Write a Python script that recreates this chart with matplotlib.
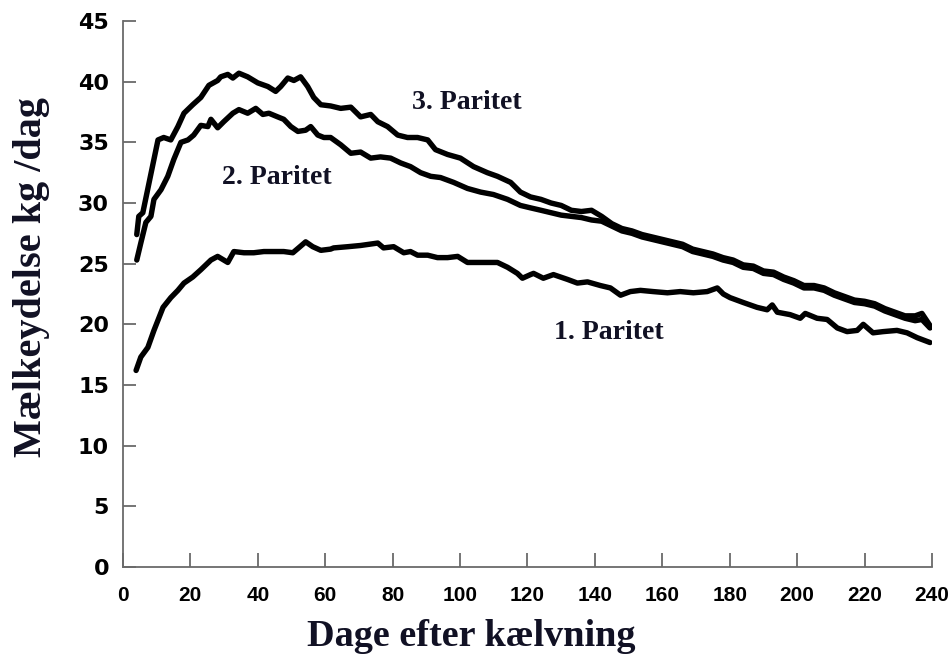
import matplotlib.pyplot as plt
import numpy as np

# days after calving and daily yield (kg)
days_p3 = [4.1, 4.7, 5.9, 10.4, 12.1, 14.2, 16.3, 18.1, 20.7, 23.1, 25.5, 28.1, 29.0, 31.1, 32.6,
           34.4, 37.0, 40.0, 43.0, 45.3, 46.8, 48.9, 50.7, 52.7, 54.8, 56.6, 58.7, 61.6, 64.6,
           67.6, 70.5, 73.5, 75.6, 78.5, 81.5, 84.4, 87.4, 90.4, 92.7, 96.3, 100.1, 104.0,
           108.1, 111.1, 115.0, 117.9, 120.9, 124, 127, 130, 133, 136, 139, 142, 145, 148,
           151, 154, 157, 160, 163, 166, 169, 172, 175, 178, 181, 184, 187, 190, 193, 196,
           199, 202, 205, 208, 211, 214, 217, 220, 223, 226, 229, 232, 235, 237, 239.4]
milk_p3 = [27.4, 28.9, 29.2, 35.2, 35.4, 35.2, 36.3, 37.4, 38.1, 38.7, 39.7, 40.1, 40.4, 40.6, 40.3,
           40.7, 40.4, 39.9, 39.6, 39.2, 39.6, 40.3, 40.1, 40.4, 39.6, 38.7, 38.1, 38.0, 37.8,
           37.9, 37.1, 37.3, 36.7, 36.3, 35.6, 35.4, 35.4, 35.2, 34.4, 34.0, 33.7, 33.0,
           32.5, 32.2, 31.7, 30.9, 30.5, 30.3, 30.0, 29.8, 29.4, 29.3, 29.4, 28.9, 28.3, 27.9,
           27.7, 27.4, 27.2, 27.0, 26.8, 26.6, 26.2, 26.0, 25.8, 25.5, 25.3, 24.9, 24.8, 24.4,
           24.3, 23.9, 23.6, 23.2, 23.2, 23.0, 22.6, 22.3, 22.0, 21.9, 21.7, 21.3, 21.0, 20.7,
           20.7, 20.9, 19.9]

days_p2 = [4.1, 5.3, 6.8, 8.3, 9.2, 11.3, 13.3, 15.1, 17.2, 19.3, 21.0, 23.1, 25.2, 26.1, 28.1,
           29.9, 32.6, 34.4, 37.0, 39.4, 41.5, 43.3, 45.9, 47.7, 49.8, 51.9, 54.2, 55.7, 57.8,
           59.6, 61.6, 64.6, 67.6, 70.5, 73.5, 76.4, 79.4, 82.4, 85.3, 88.3, 91.3, 94.2, 98.1,
           102.2, 106.1, 109.9, 114.1, 117.9, 120.9, 124, 127, 130, 133, 136, 139, 142, 145,
           148, 151, 154, 157, 160, 163, 166, 169, 172, 175, 178, 181, 184, 187, 190, 193,
           196, 199, 202, 205, 208, 211, 214, 217, 220, 223, 226, 229, 232, 235, 237, 239.4]
milk_p2 = [25.3, 26.7, 28.4, 28.9, 30.3, 31.1, 32.2, 33.6, 35.0, 35.2, 35.6, 36.4, 36.3, 36.9, 36.2,
           36.7, 37.4, 37.7, 37.4, 37.8, 37.3, 37.4, 37.1, 36.9, 36.3, 35.9, 36.0, 36.3, 35.6,
           35.4, 35.4, 34.8, 34.1, 34.2, 33.7, 33.8, 33.7, 33.3, 33.0, 32.5, 32.2, 32.1, 31.7,
           31.2, 30.9, 30.7, 30.3, 29.8, 29.6, 29.4, 29.2, 29.0, 28.9, 28.8, 28.6, 28.5, 28.1,
           27.7, 27.5, 27.2, 27.0, 26.8, 26.6, 26.4, 26.0, 25.8, 25.6, 25.3, 25.1, 24.7, 24.6,
           24.2, 24.1, 23.7, 23.4, 23.0, 23.0, 22.8, 22.4, 22.1, 21.8, 21.7, 21.5, 21.1, 20.8,
           20.5, 20.3, 20.4, 19.7]

days_p1 = [3.9, 5.3, 7.4, 9.2, 11.9, 14.2, 16.3, 18.1, 20.7, 23.1, 26.1, 28.1, 31.1, 32.9, 35.9,
           38.8, 41.8, 44.7, 47.7, 50.4, 52.1, 54.2, 56.3, 58.7, 61.6, 62.5, 66.7, 70.5, 75.6,
           77.3, 80.3, 83.3, 85.3, 87.4, 90.4, 93.3, 96.3, 99.3, 102.2, 105.2, 108.1, 111.1,
           114.1, 117.0, 118.5, 120.9, 121.8, 124.7, 127.7, 131.9, 134.8, 137.8, 141.6, 144.6,
           147.6, 150.5, 153.5, 157.3, 161.5, 165.3, 169.2, 173.3, 176.3, 178.1, 180.1, 184.0,
           188.1, 191.1, 192.6, 194.1, 197.9, 200.9, 202.4, 205.9, 208.9, 211.9, 214.8, 217.8,
           219.6, 222.5, 225.5, 229.6, 232.6, 235.6, 239.4]
milk_p1 = [16.2, 17.3, 18.1, 19.5, 21.4, 22.2, 22.8, 23.4, 23.9, 24.5, 25.3, 25.6, 25.1, 26.0, 25.9,
           25.9, 26.0, 26.0, 26.0, 25.9, 26.3, 26.8, 26.4, 26.1, 26.2, 26.3, 26.4, 26.5, 26.7,
           26.3, 26.4, 25.9, 26.0, 25.7, 25.7, 25.5, 25.5, 25.6, 25.1, 25.1, 25.1, 25.1,
           24.7, 24.2, 23.8, 24.1, 24.2, 23.8, 24.1, 23.7, 23.4, 23.5, 23.2, 23.0,
           22.4, 22.7, 22.8, 22.7, 22.6, 22.7, 22.6, 22.7, 23.0, 22.5, 22.2, 21.8,
           21.4, 21.2, 21.6, 21.0, 20.8, 20.5, 20.9, 20.5, 20.4, 19.7, 19.4, 19.5,
           20.0, 19.3, 19.4, 19.5, 19.3, 18.9, 18.5]

labels = ['3. Paritet', '2. Paritet', '1. Paritet']
label_pos = [(102, 38.25), (45.5, 32.1), (144, 19.3)]

x_ticks = np.arange(0, 241, 20)
y_ticks = np.arange(0, 46, 5)

fig = plt.figure(figsize=(9.53, 6.57), dpi=100)
ax = fig.add_axes([0.129, 0.137, 0.849, 0.831])

for d, m in [(days_p3, milk_p3), (days_p2, milk_p2), (days_p1, milk_p1)]:
    ax.plot(d, m, color='black', lw=3.9, solid_joinstyle='round', solid_capstyle='round')

txt_color = '#111124'
for lab, (x, y) in zip(labels, label_pos):
    ax.text(x, y, lab, ha='center', va='center', fontsize=20, fontweight='bold',
            family='Liberation Serif', color=txt_color)

ax.set_xlim(0, 240)
ax.set_ylim(0, 45)
ax.set_xticks(x_ticks)
ax.set_yticks(y_ticks)

for s in ['top', 'right']:
    ax.spines[s].set_visible(False)
for s in ['left', 'bottom']:
    ax.spines[s].set_color('#6a6a6a')
    ax.spines[s].set_linewidth(1.3)

ax.tick_params(axis='y', direction='in', length=9.5, width=1.3, color='#6a6a6a', pad=10)
ax.tick_params(axis='x', direction='in', length=10, width=1.3, color='#6a6a6a', pad=14)
for t in ax.get_yticklabels():
    t.set_fontsize(16)
    t.set_fontweight('bold')
    t.set_family('DejaVu Sans')
for t in ax.get_xticklabels():
    t.set_fontsize(15)
    t.set_fontweight('bold')
    t.set_family('Liberation Sans')

fig.text(471 / 953, 11 / 657, 'Dage efter kælvning', ha='center', va='baseline', fontsize=27.5,
         fontweight='bold', family='Liberation Serif', color=txt_color)
fig.text(32 / 953, 1 - 277 / 657, 'Mælkeydelse kg /dag', ha='center', va='center', rotation=90,
         fontsize=29, fontweight='bold', family='Liberation Serif', color=txt_color)

plt.savefig('out.png', dpi=100)
